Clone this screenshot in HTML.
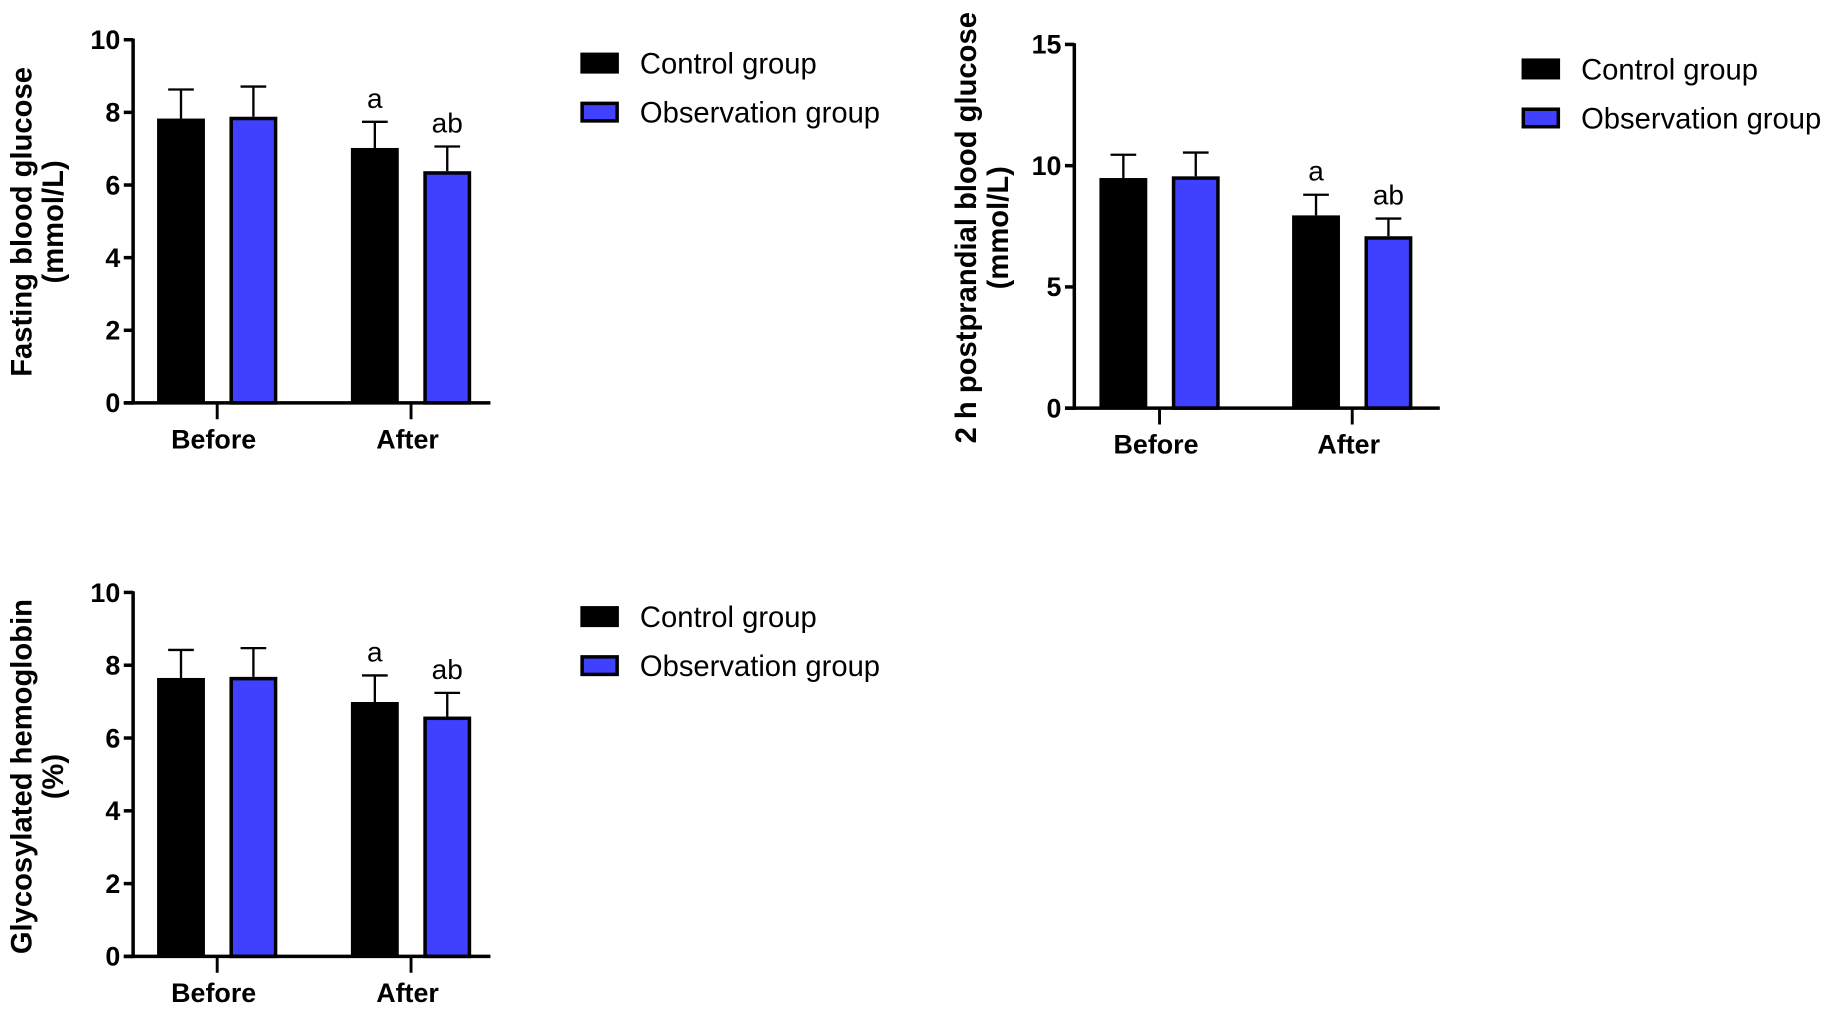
<!DOCTYPE html>
<html><head><meta charset="utf-8">
<style>
html,body{margin:0;padding:0;background:#fff;}
svg{display:block;}
text{font-family:"Liberation Sans",Arial,sans-serif;}
</style></head>
<body>
<svg id="fig" width="1831" height="1009" viewBox="0 0 1568 864" xmlns="http://www.w3.org/2000/svg"></svg>
<script>
const categories = ["Before", "After"];
const seriesNames = ["Control group", "Observation group"];
// Chart A: Fasting blood glucose
const fbgControl = [7.83, 7.02];
const fbgControlErr = [8.63, 7.74];
const fbgObs = [7.88, 6.38];
const fbgObsErr = [8.71, 7.06];
const fbgTicks = [0, 2, 4, 6, 8, 10];
// Chart B: 2 h postprandial blood glucose
const ppgControl = [9.49, 7.95];
const ppgControlErr = [10.45, 8.8];
const ppgObs = [9.56, 7.09];
const ppgObsErr = [10.54, 7.82];
const ppgTicks = [0, 5, 10, 15];
// Chart C: Glycosylated hemoglobin
const hbControl = [7.65, 6.99];
const hbControlErr = [8.42, 7.72];
const hbObs = [7.68, 6.59];
const hbObsErr = [8.47, 7.24];
const hbTicks = [0, 2, 4, 6, 8, 10];
const sigLabels = [["", ""], ["a", "ab"]];

const NS = "http://www.w3.org/2000/svg";
const svg = document.getElementById("fig");
function mk(tag, attrs, parent, txt) {
  const e = document.createElementNS(NS, tag);
  for (const k in attrs) e.setAttribute(k, attrs[k]);
  if (txt !== undefined) e.textContent = txt;
  (parent || svg).appendChild(e);
  return e;
}

function drawChart(cfg) {
  const g = mk("g", {});
  
  
  const ax = cfg.ax, y0 = cfg.y0, yTop = cfg.yTop, max = cfg.max;
  const yS = v => y0 - (v / max) * (y0 - yTop);
  const xEnd = ax + cfg.xLen;
  const groupCenters = [ax + cfg.g1, ax + cfg.g2];
  const xS = (ci, si) => groupCenters[ci] + (si === 0 ? -31 : 31);
  const bw = 41;
  const vals = [cfg.ctrl, cfg.obs], errs = [cfg.ctrlErr, cfg.obsErr];
  for (let ci = 0; ci < categories.length; ci++) {
    for (let si = 0; si < 2; si++) {
      const cx = xS(ci, si);
      const top = yS(vals[si][ci]);
      const et = yS(errs[si][ci]);
      const eb = mk("line", {x1: cx, x2: cx, y1: top, y2: et, stroke: "#000", "stroke-width": 2}, g);
      
      
      const cap = mk("line", {x1: cx - 11, x2: cx + 11, y1: et, y2: et, stroke: "#000", "stroke-width": 2}, g);
      
      
      let r;
      if (si === 0) {
        r = mk("rect", {x: cx - bw / 2, y: top, width: bw, height: y0 - top, fill: "#000"}, g);
      } else {
        r = mk("rect", {x: cx - bw / 2 + 1.5, y: top + 1.5, width: bw - 3, height: y0 - top - 1.5, fill: "#4040ff", stroke: "#000", "stroke-width": 3}, g);
      }
      
      
      const lab = sigLabels[ci][si];
      if (lab) {
        const t = mk("text", {x: cx, y: et - 12, "text-anchor": "middle", "font-size": 24}, g, lab);
        
        
      }
    }
  }
  const yA = mk("line", {x1: ax, x2: ax, y1: yTop - 1, y2: y0 + 1.5, stroke: "#000", "stroke-width": 3}, g);
  
  
  const xA = mk("line", {x1: ax - 8, x2: xEnd, y1: y0, y2: y0, stroke: "#000", "stroke-width": 3}, g);
  
  
  cfg.ticks.forEach(v => {
    const y = yS(v);
    const tk = mk("line", {x1: ax - 8, x2: ax, y1: y, y2: y, stroke: "#000", "stroke-width": 3}, g);
    
    
    const tl = mk("text", {x: ax - 11, y: y + 8, "text-anchor": "end", "font-size": 23, "font-weight": "bold"}, g, String(v));
    
    
  });
  categories.forEach((c, ci) => {
    const x = groupCenters[ci];
    const tk = mk("line", {x1: x, x2: x, y1: y0, y2: y0 + 14, stroke: "#000", "stroke-width": 2.5}, g);
    
    
    const tl = mk("text", {x: x - 3, y: y0 + 39, "text-anchor": "middle", "font-size": 23, "font-weight": "bold"}, g, c);
    
    
  });
  const tc = cfg.titleY;
  const t1 = mk("text", {x: 0, y: 0, transform: `translate(${cfg.titleX1},${tc}) rotate(-90)`, "text-anchor": "middle", "font-size": 25, "font-weight": "bold"}, g, cfg.title1);
  
  
  const t2 = mk("text", {x: 0, y: 0, transform: `translate(${cfg.titleX1 + 27},${tc}) rotate(-90)`, "text-anchor": "middle", "font-size": 25, "font-weight": "bold"}, g, cfg.title2);
  
  
  const lx = cfg.legX, ly = cfg.legY;
  seriesNames.forEach((n, si) => {
    const yy = ly + si * 42;
    let box;
    if (si === 0) box = mk("rect", {x: lx, y: yy - 9, width: 33, height: 18, fill: "#000"}, g);
    else box = mk("rect", {x: lx + 1.5, y: yy - 7.5, width: 30, height: 15, fill: "#4040ff", stroke: "#000", "stroke-width": 3}, g);
    
    
    const t = mk("text", {x: lx + 51, y: yy + 9, "font-size": 25}, g, n);
    
    
  });
}

drawChart({name: "fasting-glucose-chart", ax: 114, y0: 345, yTop: 34, max: 10, ticks: fbgTicks, xLen: 306, g1: 72, g2: 238,
  ctrl: fbgControl, ctrlErr: fbgControlErr, obs: fbgObs, obsErr: fbgObsErr,
  title1: "Fasting blood glucose", title2: "(mmol/L)", titleX1: 27, titleY: 190, legX: 497, legY: 54});
drawChart({name: "postprandial-glucose-chart", ax: 920, y0: 349.5, yTop: 38, max: 15, ticks: ppgTicks, xLen: 313, g1: 73, g2: 238,
  ctrl: ppgControl, ctrlErr: ppgControlErr, obs: ppgObs, obsErr: ppgObsErr,
  title1: "2 h postprandial blood glucose", title2: "(mmol/L)", titleX1: 836, titleY: 195, legX: 1303, legY: 59});
drawChart({name: "hemoglobin-chart", ax: 114, y0: 819, yTop: 507.3, max: 10, ticks: hbTicks, xLen: 306, g1: 72, g2: 238,
  ctrl: hbControl, ctrlErr: hbControlErr, obs: hbObs, obsErr: hbObsErr,
  title1: "Glycosylated hemoglobin", title2: "(%)", titleX1: 27, titleY: 665, legX: 497, legY: 528});
</script>
</body></html>
